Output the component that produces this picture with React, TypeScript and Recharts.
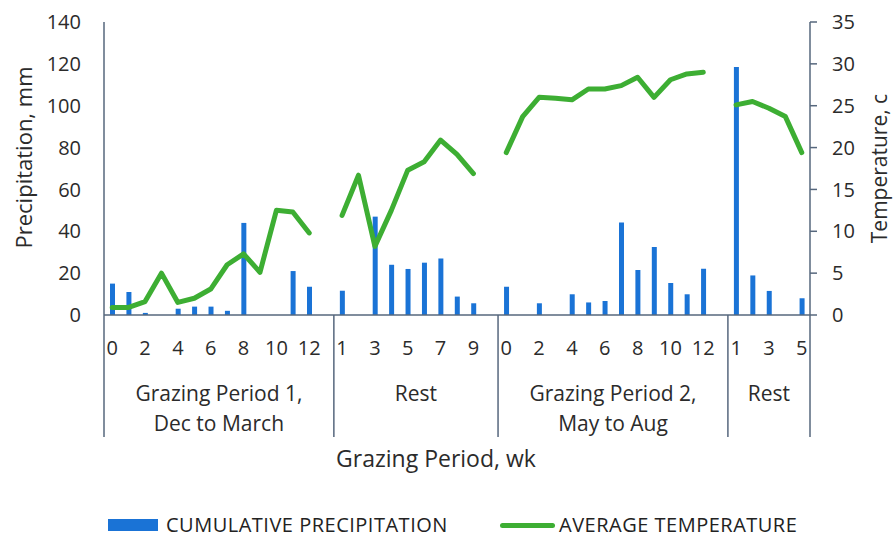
import React from "react";
import { ComposedChart, Bar, Line, XAxis, YAxis } from "recharts";

const GROUP_LABELS = [
  ["Grazing Period 1,", "Dec to March"],
  ["Rest"],
  ["Grazing Period 2,", "May to Aug"],
  ["Rest"],
];

const WEEKS_GP1 = ["0", "1", "2", "3", "4", "5", "6", "7", "8", "9", "10", "11", "12"];
const PRECIP_GP1 = [15, 11, 1, 0, 3, 4, 4, 2, 44, 0, 0, 21, 13.5];
const TEMP_GP1 = [0.9, 0.9, 1.6, 5.0, 1.5, 2.0, 3.1, 6.0, 7.3, 5.1, 12.5, 12.3, 9.8];

const WEEKS_REST1 = ["1", "2", "3", "4", "5", "6", "7", "8", "9"];
const PRECIP_REST1 = [11.6, 0, 47, 24, 22, 25, 27, 8.8, 5.6];
const TEMP_REST1 = [11.9, 16.7, 8.2, 12.5, 17.3, 18.3, 20.9, 19.2, 16.9];

const WEEKS_GP2 = ["0", "1", "2", "3", "4", "5", "6", "7", "8", "9", "10", "11", "12"];
const PRECIP_GP2 = [13.5, 0, 5.6, 0, 9.9, 6, 6.7, 44.2, 21.5, 32.5, 15.3, 9.9, 22.1];
const TEMP_GP2 = [19.4, 23.7, 26.0, 25.9, 25.7, 27.0, 27.0, 27.4, 28.4, 26.0, 28.1, 28.8, 29.0];

const WEEKS_REST2 = ["1", "2", "3", "4", "5"];
const PRECIP_REST2 = [118.5, 18.9, 11.5, 0, 8];
const TEMP_REST2 = [25.1, 25.5, 24.7, 23.7, 19.4];

const PRECIP_TICKS = [0, 20, 40, 60, 80, 100, 120, 140];
const TEMP_TICKS = [0, 5, 10, 15, 20, 25, 30, 35];

const GROUPS = [
  { weeks: WEEKS_GP1, precip: PRECIP_GP1, temp: TEMP_GP1 },
  { weeks: WEEKS_REST1, precip: PRECIP_REST1, temp: TEMP_REST1 },
  { weeks: WEEKS_GP2, precip: PRECIP_GP2, temp: TEMP_GP2 },
  { weeks: WEEKS_REST2, precip: PRECIP_REST2, temp: TEMP_REST2 },
];

// flatten, with one empty slot after each group except the last (breaks the line)
type Row = { key: string; week: string; group: number; start: boolean; len: number; precip: number | null; temp: number | null };
const rows: Row[] = [];
GROUPS.forEach((g, gi) => {
  const len = g.weeks.length + (gi < GROUPS.length - 1 ? 1 : 0);
  g.weeks.forEach((w, i) => {
    rows.push({ key: `${gi}-${i}`, week: w, group: gi, start: i === 0, len, precip: g.precip[i], temp: g.temp[i] });
  });
  if (gi < GROUPS.length - 1) {
    rows.push({ key: `${gi}-gap`, week: "", group: gi, start: false, len, precip: null, temp: null });
  }
});

const FONT = "'Open Sans', Lato, sans-serif";
const AXIS = "#56677D";
const TEXT = "#2b2b2b";
const BLUE = "#1A73D6";
const GREEN = "#3DAE33";
const PLOT_LEFT = 104;
const PLOT_RIGHT = 810;
const BAND = (PLOT_RIGHT - PLOT_LEFT) / rows.length;

function CategoryTick(props: any) {
  const { x, y, payload } = props;
  const idx = payload.index;
  const row = rows[idx];
  const out: React.ReactNode[] = [];
  if (idx % 2 === 0 && row.week !== "") {
    out.push(
      <text key="w" x={x} y={y + 40} textAnchor="middle" fontSize={20} fill={TEXT} fontFamily={FONT}>
        {row.week}
      </text>
    );
  }
  if (row.start) {
    const left = x - BAND / 2;
    out.push(<line key="d" x1={left} x2={left} y1={y} y2={y + 122} stroke={AXIS} strokeWidth={1.5} />);
    const cx = left + (row.len * BAND) / 2;
    GROUP_LABELS[row.group].forEach((t, li) => {
      out.push(
        <text key={"g" + li} x={cx} y={y + 86 + li * 30} textAnchor="middle" fontSize={21} fill={TEXT} fontFamily={FONT}>
          {t}
        </text>
      );
    });
  }
  if (idx === rows.length - 1) {
    const right = x + BAND / 2;
    out.push(<line key="e" x1={right} x2={right} y1={y} y2={y + 122} stroke={AXIS} strokeWidth={1.5} />);
  }
  return <g>{out}</g>;
}

const legendRow: React.CSSProperties = {
  position: "absolute",
  top: 515,
  height: 20,
  display: "flex",
  alignItems: "center",
  fontSize: 20,
  lineHeight: "20px",
  letterSpacing: 0.5,
  color: "#222",
  whiteSpace: "nowrap",
};

export default function App() {
  return (
    <div style={{ position: "absolute", left: 0, top: 0, width: 896, height: 541, background: "#fff", fontFamily: FONT }}>
      <ComposedChart width={896} height={541} data={rows} margin={{ top: 22, right: 0, bottom: 66, left: 0 }} barSize={5}>
        <XAxis
          dataKey="key"
          interval={0}
          tickSize={0}
          tickMargin={0}
          tickLine={false}
          height={160}
          axisLine={{ stroke: AXIS, strokeWidth: 1.5 }}
          tick={<CategoryTick />}
          label={{ value: "Grazing Period, wk", position: "insideBottom", offset: 8, dx: -21, fontSize: 23, fill: TEXT, fontFamily: FONT }}
        />
        <YAxis
          yAxisId="p"
          width={104}
          domain={[0, 140]}
          ticks={PRECIP_TICKS}
          tickLine={false}
          tickSize={0}
          tickMargin={23}
          axisLine={{ stroke: AXIS, strokeWidth: 1.5 }}
          tick={{ fontSize: 20, fill: TEXT, fontFamily: FONT }}
          label={{
            content: (p: any) => {
              const vb = p.viewBox;
              const cx = vb.x + 23;
              const cy = vb.y + vb.height / 2 - 11;
              return (
                <text x={cx} y={cy} transform={`rotate(-90 ${cx} ${cy})`} textAnchor="middle" dominantBaseline="central" fontSize={22} fill={TEXT} fontFamily={FONT}>
                  Precipitation, mm
                </text>
              );
            },
          }}
        />
        <YAxis
          yAxisId="t"
          orientation="right"
          width={86}
          domain={[0, 35]}
          ticks={TEMP_TICKS}
          tickSize={7}
          tickMargin={15}
          tickLine={{ stroke: AXIS, strokeWidth: 1.5 }}
          axisLine={{ stroke: AXIS, strokeWidth: 1.5 }}
          tick={{ fontSize: 20, fill: TEXT, fontFamily: FONT }}
          label={{
            content: (p: any) => {
              const vb = p.viewBox;
              const cx = 879;
              const cy = vb.y + vb.height / 2;
              return (
                <text x={cx} y={cy} transform={`rotate(-90 ${cx} ${cy})`} textAnchor="middle" dominantBaseline="central" fontSize={21} fill={TEXT} fontFamily={FONT}>
                  Temperature, c
                </text>
              );
            },
          }}
        />
        <Bar yAxisId="p" dataKey="precip" fill={BLUE} isAnimationActive={false} />
        <Line
          yAxisId="t"
          dataKey="temp"
          type="linear"
          stroke={GREEN}
          strokeWidth={5}
          strokeLinejoin="round"
          strokeLinecap="round"
          dot={false}
          activeDot={false}
          connectNulls={false}
          isAnimationActive={false}
        />
      </ComposedChart>
      <div style={{ ...legendRow, left: 108 }}>
        <span style={{ display: "inline-block", width: 50, height: 12, background: BLUE, marginRight: 8 }} />
        <span>CUMULATIVE PRECIPITATION</span>
      </div>
      <div style={{ ...legendRow, left: 500 }}>
        <span style={{ display: "inline-block", width: 55, height: 5, borderRadius: 3, background: GREEN, marginRight: 4 }} />
        <span>AVERAGE TEMPERATURE</span>
      </div>
    </div>
  );
}
